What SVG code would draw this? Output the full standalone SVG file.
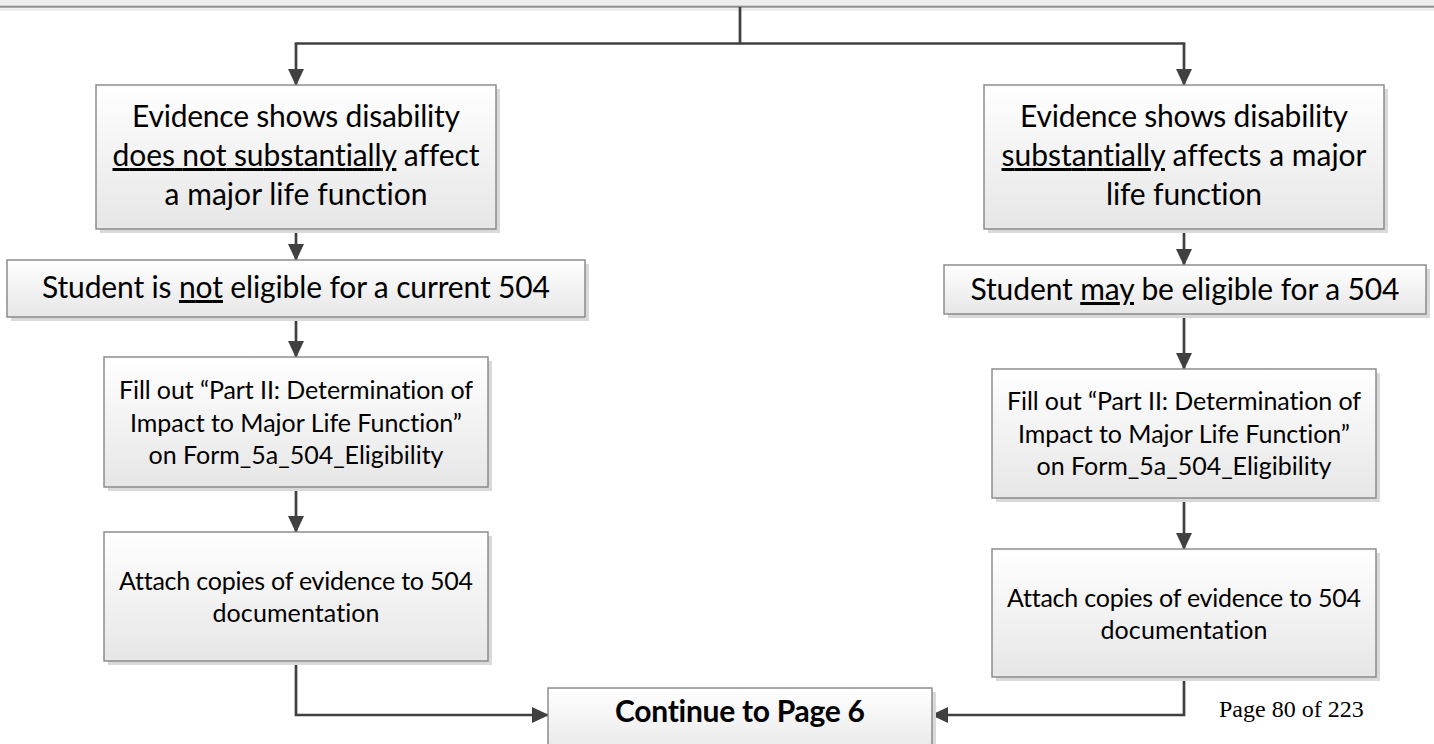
<svg xmlns="http://www.w3.org/2000/svg" width="1434" height="744" viewBox="0 0 1434 744">
<style>
.box{stroke:#858585;stroke-width:1.4;fill:url(#g)}
.sh{fill:#d9d9d9}
.t{font-family:Lato,"Open Sans",sans-serif;fill:#000;text-anchor:middle;font-variant-ligatures:none;font-feature-settings:"liga" 0}
.b{font-size:30px}
.s{font-size:25px}
.u{text-decoration:underline}
.c{fill:none;stroke:#404040;stroke-width:2.7}
</style>
<defs>
<linearGradient id="g" x1="0" y1="0" x2="0" y2="1">
<stop offset="0" stop-color="#ffffff"/>
<stop offset="1" stop-color="#e6e6e6"/>
</linearGradient>
<marker id="a" viewBox="0 0 17 16" refX="16" refY="8" markerWidth="17" markerHeight="16" orient="auto" markerUnits="userSpaceOnUse">
<path d="M0,0 L17,8 L0,16 Z" fill="#404040"/>
</marker>
</defs>
<rect x="0" y="0" width="1434" height="11" fill="#eeeeee"/>
<rect x="0" y="5.7" width="1434" height="2" fill="#8f8f8f"/>
<g id="connectors">
<path class="c" d="M740,7 V43.5 M294.7,43.5 H1185.3"/>
<path class="c" d="M296,43.5 V85" marker-end="url(#a)"/>
<path class="c" d="M1184,43.5 V85" marker-end="url(#a)"/>
<path class="c" d="M296,229 V260" marker-end="url(#a)"/>
<path class="c" d="M1184,229 V265" marker-end="url(#a)"/>
<path class="c" d="M296,317 V357" marker-end="url(#a)"/>
<path class="c" d="M1184,314 V369" marker-end="url(#a)"/>
<path class="c" d="M296,487 V532" marker-end="url(#a)"/>
<path class="c" d="M1184,498 V549" marker-end="url(#a)"/>
<path class="c" d="M296,661 V715 H548" marker-end="url(#a)"/>
<path class="c" d="M1184,677 V715 H932" marker-end="url(#a)"/>
</g>
<g id="n1">
<rect class="sh" x="100" y="89" width="400" height="144"/>
<rect class="box" x="96" y="85" width="400" height="144"/>
<text class="t b" x="296" y="127" textLength="328" lengthAdjust="spacing">Evidence shows disability</text>
<text class="t b" x="296" y="166" textLength="367" lengthAdjust="spacing"><tspan class="u">does not substantially</tspan> affect</text>
<text class="t b" x="296" y="205" textLength="263" lengthAdjust="spacing">a major life function</text>
</g>
<g id="n2">
<rect class="sh" x="988" y="89" width="400" height="144"/>
<rect class="box" x="984" y="85" width="400" height="144"/>
<text class="t b" x="1184" y="127" textLength="328" lengthAdjust="spacing">Evidence shows disability</text>
<text class="t b" x="1184" y="166" textLength="365" lengthAdjust="spacing"><tspan class="u">substantially</tspan> affects a major</text>
<text class="t b" x="1184" y="205" textLength="156" lengthAdjust="spacing">life function</text>
</g>
<g id="n3">
<rect class="sh" x="11" y="264" width="578" height="57"/>
<rect class="box" x="7" y="260" width="578" height="57"/>
<text class="t b" x="296" y="298" textLength="508" lengthAdjust="spacing">Student is <tspan class="u">not</tspan> eligible for a current 504</text>
</g>
<g id="n4">
<rect class="sh" x="948" y="269" width="482" height="49"/>
<rect class="box" x="944" y="265" width="482" height="49"/>
<text class="t b" x="1185" y="300" textLength="429" lengthAdjust="spacing">Student <tspan class="u">may</tspan> be eligible for a 504</text>
</g>
<g id="n5">
<rect class="sh" x="108" y="361" width="384" height="130"/>
<rect class="box" x="104" y="357" width="384" height="130"/>
<text class="t s" x="296" y="399" textLength="354" lengthAdjust="spacing">Fill out “Part II: Determination of</text>
<text class="t s" x="296" y="431.5" textLength="332" lengthAdjust="spacing">Impact to Major Life Function”</text>
<text class="t s" x="296" y="464" textLength="295" lengthAdjust="spacing">on Form_5a_504_Eligibility</text>
</g>
<g id="n6">
<rect class="sh" x="996" y="373" width="384" height="129"/>
<rect class="box" x="992" y="369" width="384" height="129"/>
<text class="t s" x="1184" y="410" textLength="354" lengthAdjust="spacing">Fill out “Part II: Determination of</text>
<text class="t s" x="1184" y="443" textLength="332" lengthAdjust="spacing">Impact to Major Life Function”</text>
<text class="t s" x="1184" y="475" textLength="295" lengthAdjust="spacing">on Form_5a_504_Eligibility</text>
</g>
<g id="n7">
<rect class="sh" x="108" y="536" width="384" height="129"/>
<rect class="box" x="104" y="532" width="384" height="129"/>
<text class="t s" x="296" y="590" textLength="354" lengthAdjust="spacing">Attach copies of evidence to 504</text>
<text class="t s" x="296" y="622" textLength="167" lengthAdjust="spacing">documentation</text>
</g>
<g id="n8">
<rect class="sh" x="996" y="553" width="384" height="128"/>
<rect class="box" x="992" y="549" width="384" height="128"/>
<text class="t s" x="1184" y="607" textLength="354" lengthAdjust="spacing">Attach copies of evidence to 504</text>
<text class="t s" x="1184" y="639" textLength="167" lengthAdjust="spacing">documentation</text>
</g>
<g id="n9">
<rect class="sh" x="552" y="692" width="384" height="70"/>
<rect class="box" x="548" y="688" width="384" height="70"/>
<text class="t b" x="740" y="722" font-weight="bold" textLength="250" lengthAdjust="spacing">Continue to Page 6</text>
</g>
<text x="1219" y="717" font-family="'Liberation Serif',serif" font-size="24" fill="#000">Page 80 of 223</text>
</svg>
